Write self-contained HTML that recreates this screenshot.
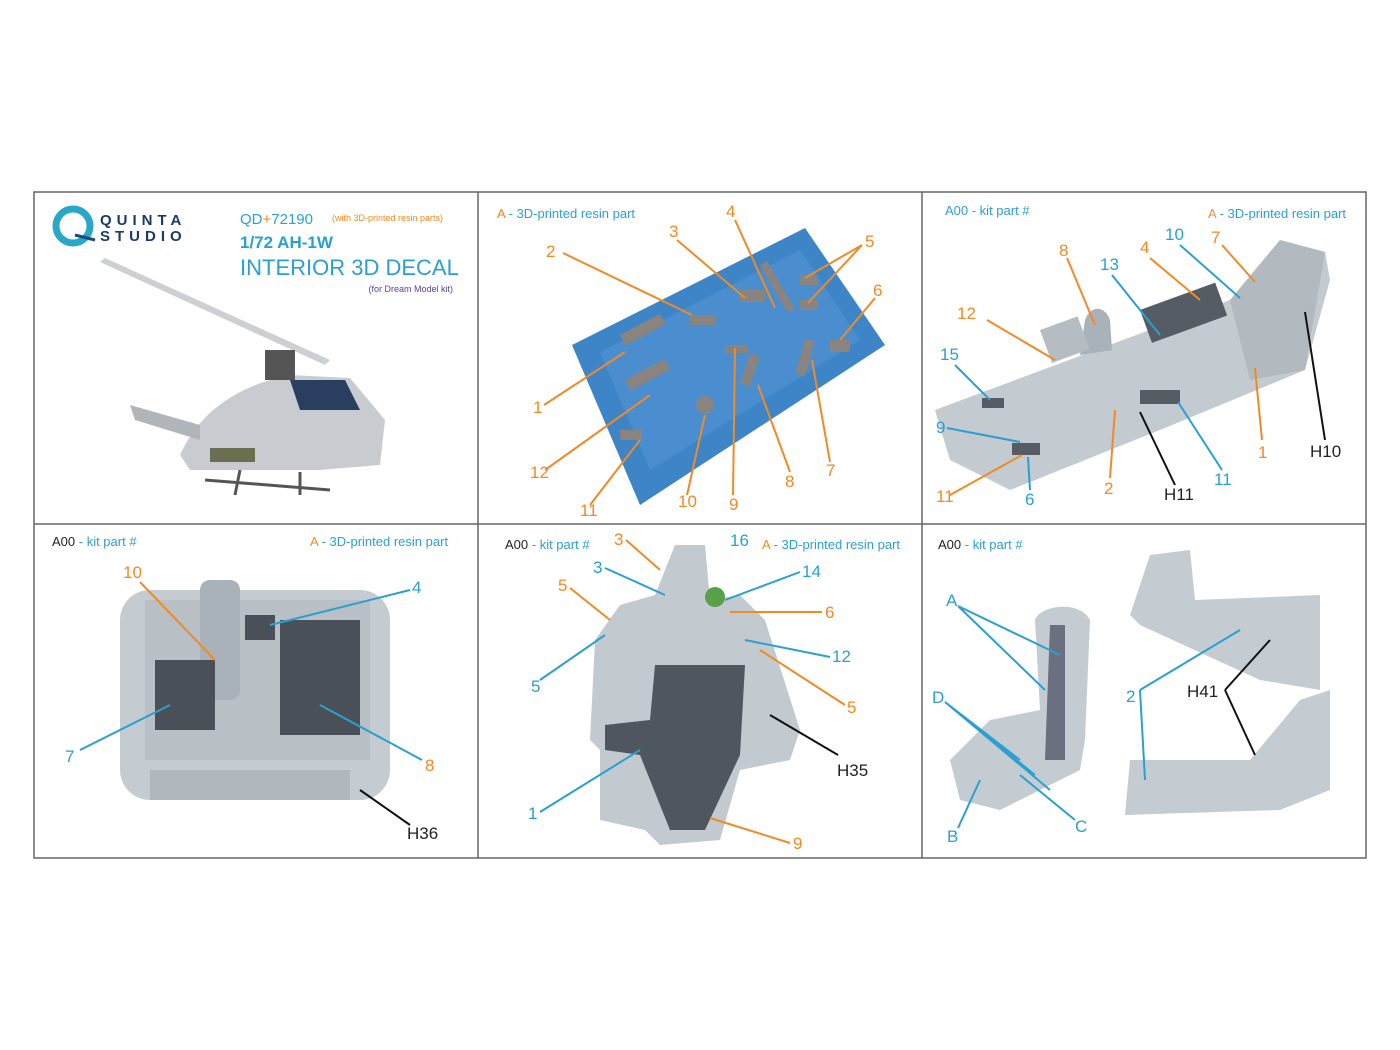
<!DOCTYPE html>
<html><head><meta charset="utf-8"><style>
body{margin:0;background:#fff}
svg{display:block}
text{font-family:"Liberation Sans",sans-serif}
.t{fill:#2aa0d0}.o{fill:#f08a24}.k{fill:#222}
.lo{stroke:#f08a24;stroke-width:2;fill:none}
.lt{stroke:#2aa0d0;stroke-width:2;fill:none}
.lk{stroke:#111;stroke-width:2;fill:none}
</style></head><body>
<svg width="1400" height="1050" viewBox="0 0 1400 1050">
<rect x="34" y="192" width="1332" height="666" fill="#fff" stroke="#666" stroke-width="1.5"/>
<line x1="478" y1="192" x2="478" y2="858" stroke="#666" stroke-width="1.5"/>
<line x1="922" y1="192" x2="922" y2="858" stroke="#666" stroke-width="1.5"/>
<line x1="34" y1="524" x2="1366" y2="524" stroke="#666" stroke-width="1.5"/>

<!-- Panel 1 -->
<circle cx="73" cy="226" r="17" fill="none" stroke="#29a7c8" stroke-width="7"/>
<path d="M75 235 L95 240" stroke="#1a4a7a" stroke-width="3"/>
<text x="100" y="225" font-size="15" font-weight="bold" fill="#1a3a6a" letter-spacing="5">QUINTA</text>
<text x="100" y="241" font-size="15" font-weight="bold" fill="#1a3a6a" letter-spacing="5">STUDIO</text>
<text x="240" y="224" font-size="15" class="t">QD<tspan class="o">+</tspan>72190</text>
<text x="332" y="221" font-size="9" class="o">(with 3D-printed resin parts)</text>
<text x="240" y="248" font-size="17" font-weight="bold" class="t">1/72 AH-1W</text>
<text x="240" y="275" font-size="22" class="t">INTERIOR 3D DECAL</text>
<text x="453" y="292" font-size="9" fill="#5a3e9a" text-anchor="end">(for Dream Model kit)</text>
<path d="M105 258 L330 360 L325 365 L100 262Z" fill="#aab0b8" opacity="0.6"/>
<path d="M180 455 C200 410 240 385 290 375 L350 378 L385 420 L380 465 L320 470 L230 470 L190 470Z" fill="#c8ccd0"/>
<path d="M290 380 L345 380 L360 410 L300 410Z" fill="#2a3f5f"/>
<path d="M130 405 L200 425 L200 440 L135 420Z" fill="#b0b5ba"/>
<rect x="265" y="350" width="30" height="30" fill="#555"/>
<path d="M205 480 L330 490 M240 470 L235 495 M300 472 L300 495" stroke="#555" stroke-width="3"/>
<rect x="210" y="448" width="45" height="14" fill="#6c6e50"/>

<!-- Panel 2 -->
<text x="497" y="218" font-size="13" class="t"><tspan class="o">A</tspan> - 3D-printed resin part</text>
<polygon points="572,345 805,228 885,345 640,505" fill="#3d85c6"/>
<polygon points="600,352 800,250 860,340 650,470" fill="#4a8ed0"/>
<g fill="#8a8480">
<rect x="620" y="335" width="45" height="12" transform="rotate(-28 620 335)"/>
<rect x="625" y="380" width="45" height="12" transform="rotate(-28 625 380)"/>
<rect x="690" y="315" width="25" height="10"/>
<rect x="740" y="290" width="25" height="12"/>
<rect x="760" y="265" width="8" height="55" transform="rotate(-30 760 265)"/>
<rect x="800" y="275" width="18" height="10"/><rect x="800" y="300" width="18" height="10"/>
<rect x="830" y="340" width="20" height="12"/><rect x="725" y="345" width="22" height="8"/>
<rect x="620" y="430" width="22" height="10"/>
<path d="M745 385 L755 355 M800 375 L810 340" stroke="#8a8480" stroke-width="10" fill="none"/>
<circle cx="705" cy="405" r="9"/>
</g>
<g font-size="17" class="o">
<text x="546" y="257">2</text><text x="669" y="237">3</text><text x="726" y="217">4</text><text x="865" y="247">5</text><text x="873" y="296">6</text>
<text x="533" y="413">1</text><text x="530" y="478">12</text><text x="580" y="516">11</text><text x="678" y="507">10</text><text x="729" y="510">9</text><text x="785" y="487">8</text><text x="826" y="476">7</text>
</g>
<g class="lo">
<path d="M563 253 L692 315"/><path d="M677 240 L745 298"/><path d="M735 220 L775 308"/><path d="M862 245 L805 278 M862 245 L808 303"/>
<path d="M875 298 L840 340"/><path d="M544 405 L625 352"/><path d="M545 470 L650 395"/><path d="M590 505 L640 440"/>
<path d="M687 495 L705 415"/><path d="M733 495 L735 348"/><path d="M790 472 L758 385"/><path d="M830 462 L812 360"/>
</g>

<!-- Panel 3 -->
<text x="945" y="215" font-size="13" class="t">A00 - kit part #</text>
<text x="1208" y="218" font-size="13" class="t"><tspan class="o">A</tspan> - 3D-printed resin part</text>
<polygon points="935,410 1230,300 1280,240 1325,252 1330,280 1305,370 1160,430 1010,490 950,460" fill="#c3cad0"/>
<polygon points="1230,300 1280,240 1325,252 1305,370 1250,380" fill="#b2babf"/>
<path d="M1080 355 L1085 320 C1090 305 1105 305 1110 320 L1112 350Z" fill="#a9b2b8"/>
<rect x="1040" y="330" width="40" height="35" fill="#b5bcc2" transform="rotate(-20 1040 330)"/>
<rect x="1140" y="310" width="80" height="35" fill="#555c64" transform="rotate(-20 1140 310)"/>
<rect x="1140" y="390" width="40" height="14" fill="#555c64"/>
<rect x="1012" y="443" width="28" height="12" fill="#555c64"/>
<rect x="982" y="398" width="22" height="10" fill="#555c64"/>
<g font-size="17">
<text x="1059" y="256" class="o">8</text><text x="1100" y="270" class="t">13</text><text x="1140" y="253" class="o">4</text><text x="1165" y="240" class="t">10</text><text x="1211" y="243" class="o">7</text>
<text x="957" y="319" class="o">12</text><text x="940" y="360" class="t">15</text><text x="936" y="433" class="t">9</text><text x="936" y="502" class="o">11</text><text x="1025" y="505" class="t">6</text>
<text x="1104" y="494" class="o">2</text><text x="1164" y="500" class="k">H11</text><text x="1214" y="485" class="t">11</text><text x="1258" y="458" class="o">1</text><text x="1310" y="457" class="k">H10</text>
</g>
<path class="lo" d="M1067 258 L1095 325"/><path class="lt" d="M1112 275 L1160 335"/><path class="lo" d="M1150 258 L1200 300"/>
<path class="lt" d="M1180 245 L1240 298"/><path class="lo" d="M1222 245 L1255 282"/><path class="lo" d="M987 320 L1055 360"/>
<path class="lt" d="M955 365 L990 400"/><path class="lt" d="M947 428 L1020 442"/><path class="lo" d="M950 495 L1022 455"/>
<path class="lt" d="M1030 490 L1028 457"/><path class="lo" d="M1110 478 L1115 410"/><path class="lk" d="M1175 485 L1140 412"/>
<path class="lt" d="M1222 470 L1178 402"/><path class="lo" d="M1262 440 L1255 368"/><path class="lk" d="M1325 440 L1305 312"/>

<!-- Panel 4 -->
<text x="52" y="546" font-size="13" class="k">A00 <tspan class="t">- kit part #</tspan></text>
<text x="310" y="546" font-size="13" class="t"><tspan class="o">A</tspan> - 3D-printed resin part</text>
<rect x="120" y="590" width="270" height="210" rx="30" fill="#c4ccd2"/>
<rect x="145" y="600" width="225" height="160" fill="#b8c0c6"/>
<rect x="200" y="580" width="40" height="120" rx="10" fill="#a9b2b8"/>
<rect x="280" y="620" width="80" height="115" fill="#4a5058"/>
<rect x="155" y="660" width="60" height="70" fill="#4a5058"/>
<rect x="245" y="615" width="30" height="25" fill="#4a5058"/>
<rect x="150" y="770" width="200" height="30" fill="#b0b8be"/>
<g font-size="17">
<text x="123" y="578" class="o">10</text><text x="412" y="593" class="t">4</text><text x="65" y="762" class="t">7</text><text x="425" y="771" class="o">8</text><text x="407" y="839" class="k">H36</text>
</g>
<path class="lo" d="M140 582 L215 660"/><path class="lt" d="M410 590 L270 625"/><path class="lt" d="M80 750 L170 705"/><path class="lt" d="M422 760 L320 705"/><path class="lk" d="M410 825 L360 790"/>

<!-- Panel 5 -->
<text x="505" y="549" font-size="13" class="k">A00 <tspan class="t">- kit part #</tspan></text>
<text x="762" y="549" font-size="13" class="t"><tspan class="o">A</tspan> - 3D-printed resin part</text>
<path d="M655 595 L675 545 L705 545 L710 600 L740 595 L765 620 L800 730 L790 760 L740 770 L720 840 L660 845 L645 830 L600 820 L600 750 L590 740 L595 640 L620 605Z" fill="#c2cad0"/>
<path d="M655 665 L745 665 L740 755 L705 830 L670 830 L640 755 L605 750 L605 725 L650 720Z" fill="#4f565e"/>
<circle cx="715" cy="597" r="10" fill="#5aa04a"/>
<g font-size="17">
<text x="614" y="545" class="o">3</text><text x="730" y="546" class="t">16</text><text x="593" y="573" class="t">3</text><text x="802" y="577" class="t">14</text><text x="558" y="591" class="o">5</text><text x="825" y="618" class="o">6</text>
<text x="832" y="662" class="t">12</text><text x="531" y="692" class="t">5</text><text x="847" y="713" class="o">5</text><text x="837" y="776" class="k">H35</text><text x="528" y="819" class="t">1</text><text x="793" y="849" class="o">9</text>
</g>
<path class="lo" d="M626 540 L660 570"/><path class="lt" d="M605 568 L665 595"/><path class="lt" d="M800 572 L725 600"/><path class="lo" d="M570 588 L610 620"/><path class="lo" d="M822 612 L730 612"/>
<path class="lt" d="M830 657 L745 640"/><path class="lt" d="M540 680 L605 635"/><path class="lo" d="M845 705 L760 650"/><path class="lk" d="M838 755 L770 715"/><path class="lt" d="M540 812 L640 750"/><path class="lo" d="M790 843 L710 818"/>

<!-- Panel 6 -->
<text x="938" y="549" font-size="13" class="k">A00 <tspan class="t">- kit part #</tspan></text>
<path d="M1035 620 C1040 605 1080 600 1090 620 L1085 740 L1080 770 L1000 810 L960 800 L950 760 L990 720 L1040 710Z" fill="#c4ccd2"/>
<path d="M1050 625 L1065 625 L1065 760 L1045 760Z" fill="#6a7080"/>
<path d="M1130 615 L1150 555 L1190 550 L1195 600 L1320 595 L1320 690 L1260 680 L1140 625Z" fill="#c4ccd2"/>
<path d="M1125 815 L1130 760 L1250 760 L1300 700 L1330 690 L1330 790 L1280 810Z" fill="#c4ccd2"/>
<g font-size="17">
<text x="946" y="606" class="t">A</text><text x="932" y="703" class="t">D</text><text x="1126" y="702" class="t">2</text><text x="1187" y="697" class="k">H41</text><text x="947" y="842" class="t">B</text><text x="1075" y="832" class="t">C</text>
</g>
<path class="lt" d="M958 606 L1045 690 M958 606 L1060 655"/><path class="lt" d="M945 702 L1020 760 M945 702 L1035 775 M945 702 L1050 790"/>
<path class="lt" d="M1140 690 L1240 630 M1140 690 L1145 780"/><path class="lk" d="M1225 690 L1270 640 M1225 690 L1255 755"/>
<path class="lt" d="M958 828 L980 780"/><path class="lt" d="M1075 820 L1020 775"/>
</svg>
</body></html>
